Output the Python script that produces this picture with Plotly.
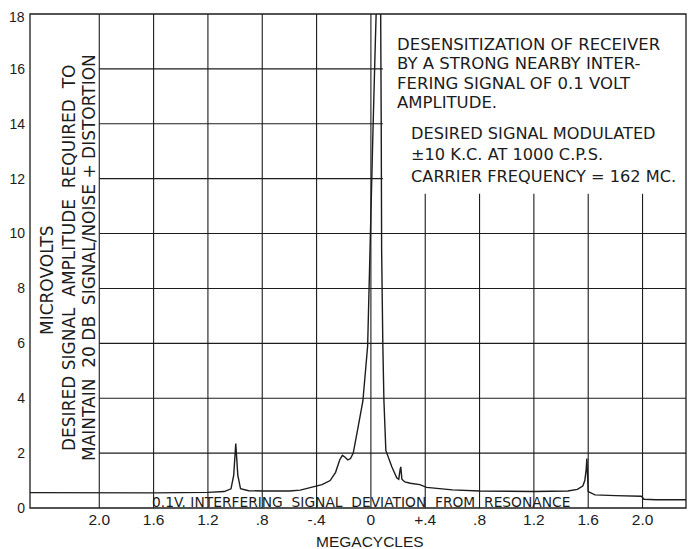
import plotly.graph_objects as go

# ---- data ----
freq_mc = [-2.51, -2.0, -1.6, -1.2, -1.08, -1.03, -1.01, -0.995, -0.98, -0.96, -0.9, -0.8,
           -0.6, -0.52, -0.43, -0.36, -0.30, -0.26, -0.23, -0.21, -0.19, -0.17, -0.15, -0.13,
           -0.096, -0.059, -0.024, -0.015, 0.0, 0.015, 0.03, 0.04, 0.05, 0.065, 0.072, 0.076,
           0.079, 0.088, 0.096, 0.11, 0.13, 0.154, 0.19, 0.205, 0.215, 0.22, 0.228, 0.25, 0.29,
           0.36, 0.41, 0.6, 0.8, 1.2, 1.45, 1.52, 1.56, 1.575, 1.585, 1.59, 1.6, 1.65, 1.8,
           1.99, 2.0, 2.01, 2.1, 2.32]
microvolts = [0.56, 0.54, 0.55, 0.57, 0.6, 0.7, 1.2, 2.35, 1.2, 0.7, 0.63, 0.62,
              0.62, 0.65, 0.75, 0.85, 1.0, 1.3, 1.75, 1.92, 1.85, 1.75, 1.8, 2.0,
              2.9, 3.9, 5.9, 7.9, 11.0, 13.7, 16.5, 18.5, 20.0, 20.0, 18.0, 14.0,
              9.4, 5.9, 3.9, 2.1, 1.8, 1.5, 1.1, 1.05, 1.4, 1.5, 1.05, 0.95, 0.9,
              0.85, 0.75, 0.66, 0.62, 0.6, 0.62, 0.68, 0.8, 1.0, 1.4, 1.8, 0.6, 0.48, 0.45,
              0.43, 0.38, 0.32, 0.3, 0.3]

x_tick_vals = [-2.0, -1.6, -1.2, -0.8, -0.4, 0.0, 0.4, 0.8, 1.2, 1.6, 2.0]
x_tick_text = ["2.0", "1.6", "1.2", ".8", "-.4", "0", "+.4", ".8", "1.2", "1.6", "2.0"]
y_tick_vals = [0, 2, 4, 6, 8, 10, 12, 14, 16, 18]
y_tick_text = ["0", "2", "4", "6", "8", "10", "12", "14", "16", "18"]

note_lines_1 = ["DESENSITIZATION OF RECEIVER", "BY A STRONG NEARBY INTER-",
                "FERING SIGNAL OF 0.1 VOLT", "AMPLITUDE."]
note_lines_2 = ["DESIRED SIGNAL MODULATED", "±10 K.C. AT 1000 C.P.S.",
                "CARRIER FREQUENCY = 162 MC."]
y_title_lines = ["MICROVOLTS", "DESIRED SIGNAL  AMPLITUDE  REQUIRED  TO",
                 "MAINTAIN  20 DB  SIGNAL/NOISE + DISTORTION"]

X_MIN, X_MAX = -2.51, 2.32
Y_MIN, Y_MAX = 0, 18
FONT = "Liberation Sans"
TFONT = "DejaVu Sans"
INK = "#1c1c1c"

# the page body has an 8px margin, so the figure is sized/offset to compensate
OFF = 8
FIG_W, FIG_H = 695 - OFF, 549 - OFF
PLOT_L, PLOT_R, PLOT_T, PLOT_B = 30, 686, 14, 508   # page pixels of the frame
L = PLOT_L - OFF
T = PLOT_T - OFF
R = (FIG_W + OFF) - PLOT_R
B = (FIG_H + OFF) - PLOT_B
PW, PH = PLOT_R - PLOT_L, PLOT_B - PLOT_T


def px_x(p):
    return (p - PLOT_L) / PW


def px_y(p):
    return 1 - (p - PLOT_T) / PH


fig = go.Figure()
fig.add_trace(go.Scatter(x=freq_mc, y=microvolts, mode="lines",
                         line=dict(color=INK, width=1.4), hoverinfo="skip",
                         showlegend=False))

shapes = []
for v in y_tick_vals[1:-1]:
    shapes.append(dict(type="line", xref="x", yref="y", x0=-2.0, x1=X_MAX, y0=v, y1=v,
                       line=dict(color=INK, width=1.1), layer="below"))
for v in x_tick_vals:
    shapes.append(dict(type="line", xref="x", yref="y", x0=v, x1=v, y0=Y_MIN, y1=Y_MAX,
                       line=dict(color=INK, width=1.1), layer="below"))
shapes.append(dict(type="rect", xref="x", yref="y", x0=0.088, x1=X_MAX, y0=11.45, y1=Y_MAX,
                   fillcolor="white", line=dict(width=0), layer="below"))
shapes.append(dict(type="rect", xref="paper", yref="paper", x0=0, x1=1, y0=0, y1=1,
                   line=dict(color=INK, width=1.3), layer="above"))

annotations = []
for txt, yp in zip(note_lines_1, [45, 64, 83, 102]):
    annotations.append(dict(text=txt, xref="paper", yref="paper", x=px_x(395),
                            y=px_y(yp), xanchor="left", yanchor="middle",
                            showarrow=False, font=dict(family=TFONT, size=16.5, color=INK)))
for txt, yp in zip(note_lines_2, [133, 154, 177]):
    annotations.append(dict(text=txt, xref="paper", yref="paper", x=px_x(409),
                            y=px_y(yp), xanchor="left", yanchor="middle",
                            showarrow=False, font=dict(family=TFONT, size=16.2, color=INK)))
for txt, xp, yp in zip(y_title_lines, [47, 69, 89], [281, 258, 258]):
    annotations.append(dict(text=txt, xref="paper", yref="paper", x=px_x(xp),
                            y=px_y(yp), xanchor="center", yanchor="middle",
                            textangle=-90, showarrow=False,
                            font=dict(family=TFONT, size=17, color=INK)))
annotations.append(dict(text="0.1V. INTERFERING  SIGNAL  DEVIATION  FROM  RESONANCE",
                        xref="paper", yref="paper", x=px_x(361), y=px_y(502),
                        xanchor="center", yanchor="middle", showarrow=False,
                        font=dict(family=TFONT, size=13.8, color=INK)))
annotations.append(dict(text="MEGACYCLES", xref="paper", yref="paper", x=px_x(370),
                        y=px_y(541), xanchor="center", yanchor="middle", showarrow=False,
                        font=dict(family=FONT, size=15.5, color=INK)))
# top y label placed as an annotation so it stays inside the page
annotations.append(dict(text=y_tick_text[-1], xref="paper", yref="paper", x=px_x(26),
                        y=px_y(8), xanchor="right", yanchor="top", showarrow=False,
                        borderpad=0,
                        font=dict(family=FONT, size=14, color=INK)))

fig.update_layout(
    width=FIG_W, height=FIG_H,
    margin=dict(l=L, r=R, t=T, b=B, autoexpand=False),
    paper_bgcolor="white", plot_bgcolor="white",
    shapes=shapes, annotations=annotations,
    showlegend=False,
    xaxis=dict(range=[X_MIN, X_MAX], showgrid=False, zeroline=False, showline=False,
               automargin=False,
               tickmode="array", tickvals=x_tick_vals, ticktext=x_tick_text, ticks="",
               tickfont=dict(family=FONT, size=15.5, color=INK)),
    yaxis=dict(range=[Y_MIN, Y_MAX], showgrid=False, zeroline=False, showline=False,
               automargin=False,
               tickmode="array", tickvals=y_tick_vals[:-1], ticktext=y_tick_text[:-1],
               ticks="", ticklabelstandoff=4,
               tickfont=dict(family=FONT, size=14, color=INK)),
)

fig.write_html("out.html")
